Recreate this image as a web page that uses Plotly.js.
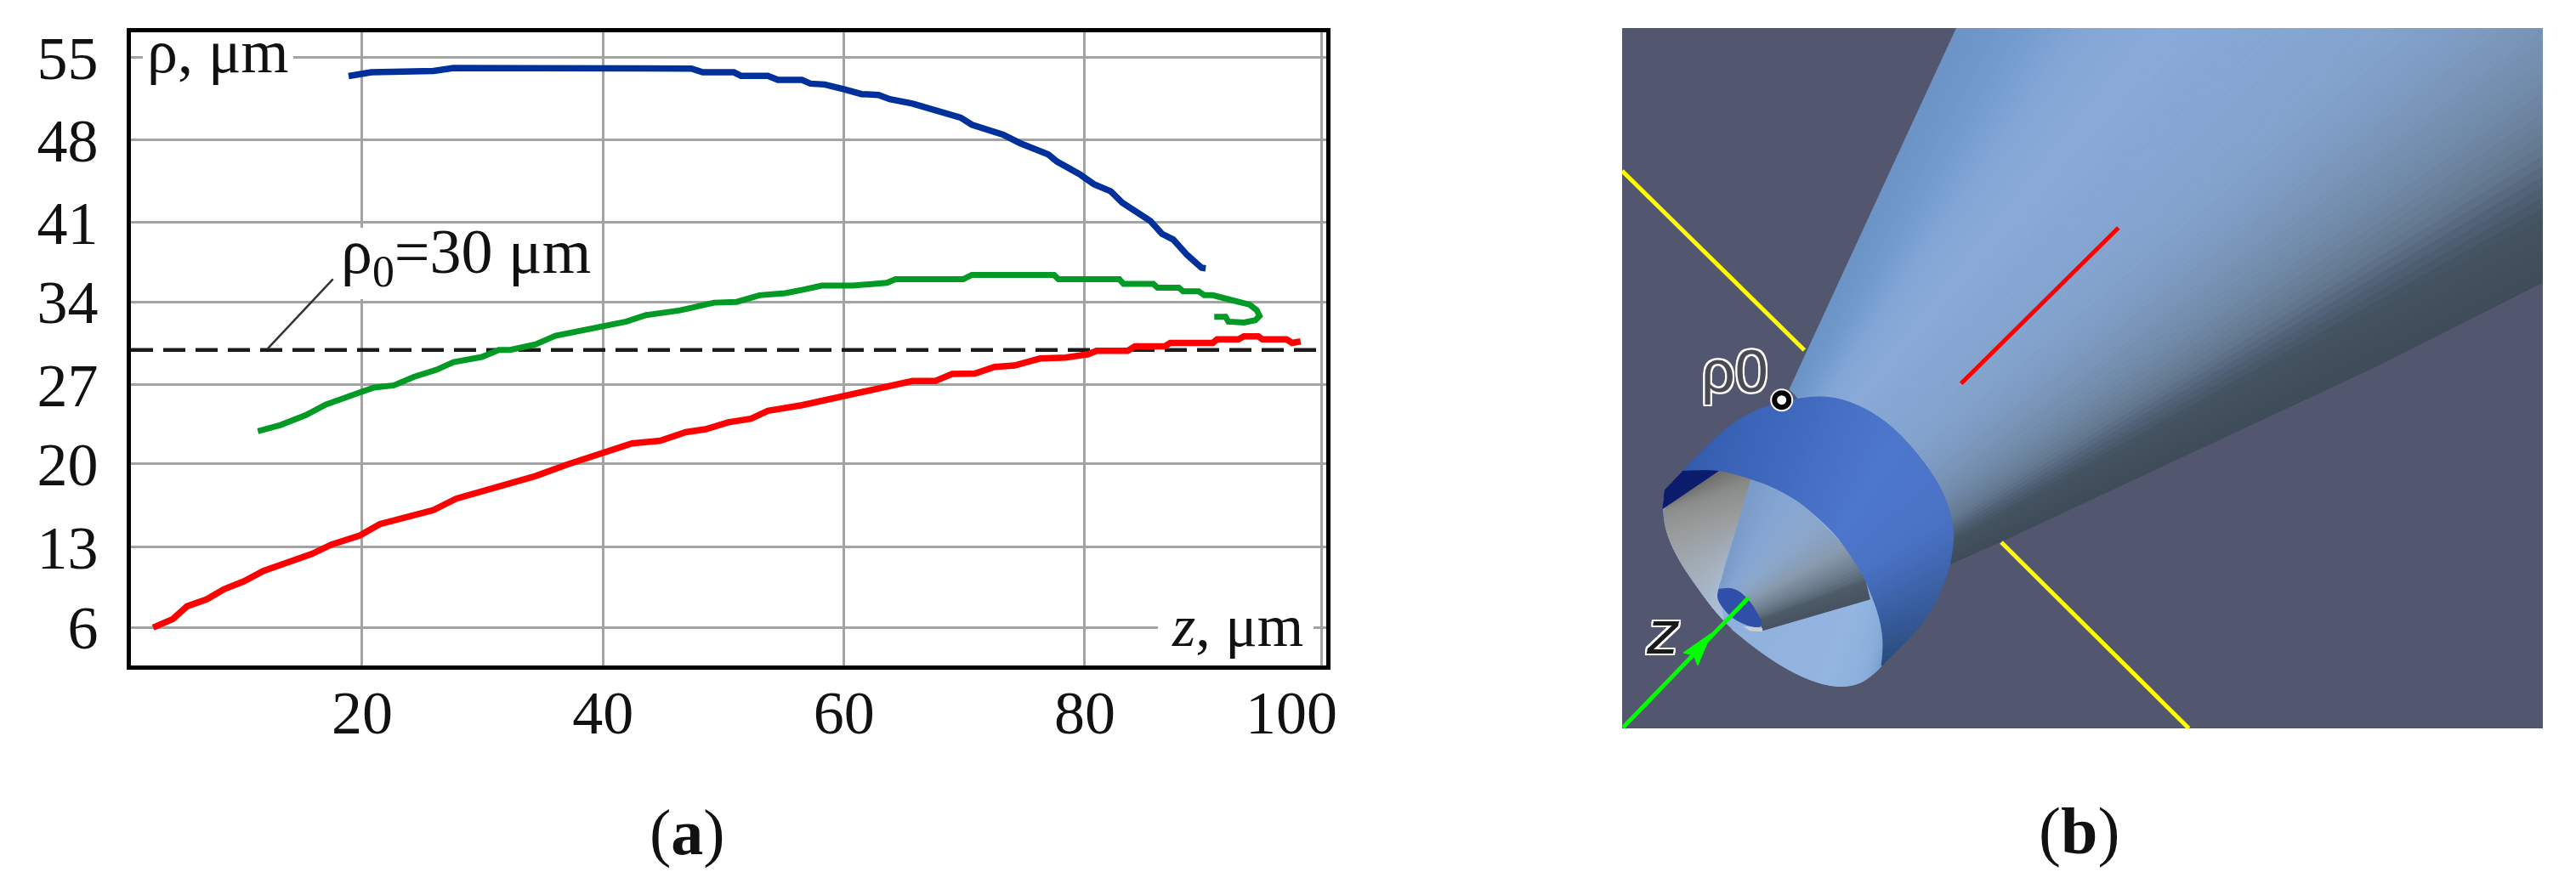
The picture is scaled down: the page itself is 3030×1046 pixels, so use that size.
<!DOCTYPE html>
<html>
<head>
<meta charset="utf-8">
<script src="https://cdn.plot.ly/plotly-3.0.1.min.js"></script>
<style>html,body{margin:0;padding:0;background:#fff;overflow:hidden}</style>
</head>
<body>
<div id="chart" style="width:3030px;height:1046px"></div>
<script>
// ---- chart (a) data ----
const xTickVals = [20, 40, 60, 80];
const xTickText = ['20', '40', '60', '80'];
const xLastGrid = [99.69];
const yTickVals = [6, 12.89, 20.05, 26.84, 33.98, 40.78, 47.91, 55];
const yTickText = ['6', '13', '20', '27', '34', '41', '48', '55'];

const blueZ = [18.87,20.75,25.93,27.58,34.40,47.34,48.28,50.87,51.46,53.69,54.52,56.52,57.22,58.40,60.04,61.46,62.87,63.81,65.69,67.57,69.69,70.63,73.22,74.63,76.98,77.69,79.57,80.75,82.16,83.10,84.51,85.45,86.40,87.34,88.51,89.69,90.04];
const blueRho = [53.38,53.70,53.82,54.07,54.05,54.02,53.70,53.70,53.39,53.39,53.05,53.05,52.73,52.66,52.24,51.83,51.75,51.39,51.02,50.41,49.81,49.20,48.34,47.61,46.64,46.03,44.94,44.09,43.47,42.50,41.53,40.92,39.82,39.33,37.99,36.90,36.85];

const greenZ = [11.34,13.22,15.34,16.99,19.81,20.99,22.63,24.28,26.17,27.58,29.93,31.34,32.28,34.40,36.04,39.10,41.93,43.57,46.40,49.22,51.10,52.99,55.10,56.52,58.16,60.75,63.57,64.28,69.92,70.63,77.45,77.81,82.87,83.22,85.69,86.04,87.81,88.16,89.45,89.92,90.63,91.81,92.75,93.69,94.28,94.51,94.16,93.22,91.92,91.69,90.75];
const greenRho = [22.85,23.38,24.24,25.14,26.18,26.60,26.79,27.52,28.13,28.79,29.23,29.84,29.84,30.32,31.05,31.66,32.27,32.83,33.24,33.90,33.97,34.54,34.71,35.00,35.37,35.37,35.61,35.92,35.92,36.29,36.29,35.92,35.92,35.51,35.51,35.19,35.19,34.88,34.88,34.54,34.54,34.22,33.97,33.73,33.25,32.76,32.39,32.20,32.27,32.68,32.68];

const redZ = [2.64,4.28,5.46,7.11,8.52,10.17,11.81,13.69,15.81,17.46,19.81,21.46,23.58,25.93,27.81,30.17,32.52,34.40,36.99,40.05,42.40,44.75,46.87,48.52,50.40,52.28,53.69,56.52,59.34,62.87,65.69,67.57,68.98,70.87,72.51,74.16,76.28,78.40,80.28,80.98,83.57,84.16,86.63,87.10,90.63,90.98,92.75,93.22,94.40,94.75,96.75,97.22,97.92];
const redRho = [5.97,6.70,7.80,8.41,9.26,9.94,10.84,11.57,12.30,13.11,13.89,14.86,15.47,16.08,17.05,17.78,18.51,19.00,19.97,20.94,21.80,22.04,22.77,23.02,23.62,23.92,24.60,25.09,25.70,26.43,27.16,27.16,27.77,27.81,28.37,28.50,29.10,29.18,29.47,29.76,29.76,30.15,30.15,30.44,30.44,30.74,30.74,31.00,31.00,30.74,30.74,30.44,30.57];

const rho0Z = [0.8, 100.05];
const rho0Rho = [29.84, 29.84];
const leaderZ = [12.16, 17.58];
const leaderRho = [29.96, 35.92];

// ---- helpers ----
const W = 3030, H = 1046;
const serif = '"Liberation Serif","Times New Roman",serif';
const px = (x, y) => ({x: x / W, y: 1 - y / H, xref: 'paper', yref: 'paper', xanchor: 'center', yanchor: 'middle', showarrow: false});
const hex = c => [1, 3, 5].map(i => parseInt(c.substr(i, 2), 16));
function colorAt(stops, t) {
  for (let i = 1; i < stops.length; i++) {
    if (t <= stops[i][0]) {
      const a = stops[i - 1], b = stops[i], f = (t - a[0]) / (b[0] - a[0] || 1);
      const ca = hex(a[1]), cb = hex(b[1]);
      return 'rgb(' + ca.map((v, k) => Math.round(v + (cb[k] - v) * f)).join(',') + ')';
    }
  }
  return stops[stops.length - 1][1];
}
const z6 = p => [1930 + p[0] / 3, 430 + p[1] / 3];   // crop units of panel (b) to panel units
function smooth(A, times) {                           // corner cutting, keeps both ends
  let pts = A;
  for (let n = 0; n < (times || 2); n++) {
    const out = [pts[0]];
    for (let i = 0; i < pts.length - 1; i++) {
      const a = pts[i], b = pts[i + 1];
      out.push([a[0] * .75 + b[0] * .25, a[1] * .75 + b[1] * .25], [a[0] * .25 + b[0] * .75, a[1] * .25 + b[1] * .75]);
    }
    out.push(pts[pts.length - 1]);
    pts = out;
  }
  return pts;
}
const shapes = [];
// white gaps behind the chart labels, above the grid and below the curves
[[1.79, 14.28, 55.53, 54.43], [17.8, 39.3, 40.34, 34.2], [86.07, 98.99, 6.95, 4.98]].forEach(b =>
  shapes.push({type: 'rect', xref: 'x', yref: 'y', layer: 'between', x0: b[0], x1: b[1], y0: b[2], y1: b[3], fillcolor: '#fff', line: {width: 0}}));
function poly(pts, color, layer) {
  shapes.push({type: 'path', xref: 'x2', yref: 'y2', layer: layer || 'below',
    path: 'M' + pts.map(p => p[0].toFixed(1) + ' ' + p[1].toFixed(1)).join(' L') + ' Z',
    fillcolor: color, line: {color: color, width: 1}});
}
function lerpLine(A, t) {
  const s = t * (A.length - 1), i = Math.min(Math.floor(s), A.length - 2), f = s - i;
  return [A[i][0] + (A[i + 1][0] - A[i][0]) * f, A[i][1] + (A[i + 1][1] - A[i][1]) * f];
}
function ribbon(A, B, stops, n) {
  for (let k = 0; k < n; k++) {
    const t0 = k / n, t1 = (k + 1) / n;
    poly([lerpLine(A, t0), lerpLine(A, t1), lerpLine(B, t1), lerpLine(B, t0)], colorAt(stops, (t0 + t1) / 2));
  }
}

// ---- panel (b): illustration, built from shapes in panel units ----
const bg = '#53566f';
shapes.push({type: 'rect', xref: 'x2', yref: 'y2', layer: 'below', x0: 1908, x1: 2991, y0: 33, y1: 857, fillcolor: bg, line: {width: 0}});

// cone, fan of bands from the shell to the far side
const coneNear = [[2105, 458], [2295, 663]];
const coneStops = [[0,'#6b93c6'],[.06,'#7099cc'],[.15,'#83a6d6'],[.25,'#8aabd9'],[.35,'#86a7d4'],[.5,'#84a4cf'],[.6,'#7f9dc5'],[.7,'#7793b5'],[.77,'#7089a7'],[.84,'#64798f'],[.88,'#52647a'],[.92,'#455361'],[1,'#3f4c59']];
const farLen = 689.5 + 299;
const farAt = t => {
  const d = t * farLen;
  return d <= 689.5 ? [2301.5 + d, 33] : [2991, 33 + d - 689.5];
};
const nearAt = t => lerpLine(coneNear, t);
const ext = (n, f) => [n[0] + (f[0] - n[0]) * 1.25, n[1] + (f[1] - n[1]) * 1.25];
const BANDS = 80;
for (let k = 0; k < BANDS; k++) {
  const t0 = k / BANDS, t1 = (k + 1) / BANDS;
  const n0 = nearAt(t0), n1 = nearAt(t1);
  poly([n0, n1, ext(n1, farAt(t1)), ext(n0, farAt(t0))], colorAt(coneStops, (t0 + t1) / 2));
}
poly([[2295, 663], [2354, 637], [2797, 430], [2991, 332]], '#3f4c59');

// shell outer and inner arcs
const shellOuter = smooth([[150,370],[250,265],[350,185],[450,140],[600,108],[700,115],[800,155],[900,225],[1000,340],[1070,450],[1105,570],[1100,650],[1085,730],[1040,840],[980,930],[900,1010],[850,1060]].map(z6));
const shellInner = smooth([[150,370],[200,368],[280,368],[390,400],[470,430],[560,480],[640,550],[690,600],[720,640],[760,700],[790,750],[810,800],[830,850],[845,900],[855,960],[855,1010],[850,1060]].map(z6));
const rimOuter = smooth([[150,370],[85,440],[78,510],[90,590],[130,680],[190,770],[260,865],[320,930],[420,1010],[520,1075],[620,1120],[700,1135],[770,1125],[820,1090],[850,1060]].map(z6));

// inner surface base
poly(rimOuter.concat(shellInner.slice().reverse()), '#8eb1dd');

// lower light part of the inner surface
ribbon(smooth([[320,930],[420,1010],[520,1075],[620,1120],[700,1135],[770,1125],[820,1090],[850,1060]].map(z6)),
       smooth([[430,935],[520,910],[620,880],[720,850],[808,825],[830,850],[855,960],[850,1060]].map(z6)),
       [[0,'#8fb1dc'],[.5,'#93b5e0'],[.75,'#8aaedb'],[.9,'#7ba2d2'],[1,'#6a92c6']], 32);

// grey part of the inner surface
ribbon(smooth([[100,490],[78,510],[90,590],[130,680],[190,770],[260,865],[290,895]].map(z6)),
       [[280,368],[390,400],[360,500],[330,590],[300,680],[275,790],[290,895]].map(z6).flatMap((p, i, a) => i < a.length - 1 ? [p, lerpLine([p, a[i + 1]], .25), lerpLine([p, a[i + 1]], .5), lerpLine([p, a[i + 1]], .75)] : [p]).slice(0, 25),
       [[0,'#6f706e'],[.2,'#8a8c8a'],[.4,'#9a9e9f'],[.6,'#a3adb8'],[.8,'#a9bcd2'],[1,'#a9c0dc']], 30);

// navy sliver
poly([[150,370],[280,368],[100,490],[78,505],[85,440]].map(z6), '#0c1c6c');

// inner cone
ribbon([[275,790],[330,785],[380,825],[420,890],[430,935]].map(z6),
       [[390,400],[560,480],[720,640],[790,750],[808,825]].map(z6),
       [[0,'#7a9ac8'],[.2,'#86a6d3'],[.38,'#8ba6c8'],[.52,'#8899ad'],[.66,'#6f7f8f'],[.8,'#4d5b68'],[1,'#47525f']], 40);

// blue cap at the tip of the inner cone
poly(smooth([[275,790],[330,785],[380,825],[420,890],[430,925],[380,920],[320,890],[285,850],[270,820],[275,790]].map(z6)), '#2f4fa8');
poly([[365,922],[428,928],[428,938],[385,936]].map(z6), '#c9cfcf');

// shell outer surface
ribbon(shellOuter, shellInner,
  [[0,'#3059a8'],[.2,'#3d66bb'],[.45,'#4d77cd'],[.6,'#4a72c4'],[.72,'#3f65ad'],[.84,'#345894'],[.93,'#2d4f82'],[1,'#27477a']], 64);

// arrowhead on the z axis
shapes.push({type: 'path', xref: 'x2', yref: 'y2', layer: 'above',
  path: 'M2013 745 L1980 768 L1992 771 L1997 783 Z', fillcolor: '#00ff00', line: {color: '#00ff00', width: 1}});

// ---- traces ----
const line2 = (x, y, color, width) => ({x, y, xaxis: 'x2', yaxis: 'y2', mode: 'lines', hoverinfo: 'skip',
  line: {color, width}});
const traces = [
  {x: rho0Z, y: rho0Rho, mode: 'lines', line: {color: '#1a1a1a', width: 4.5, dash: '26px,12px'}, name: 'ρ0=30 μm'},
  {x: leaderZ, y: leaderRho, mode: 'lines', line: {color: '#333333', width: 2.5}, name: 'leader'},
  {x: blueZ, y: blueRho, mode: 'lines', line: {color: '#00309c', width: 7.5}, name: 'blue'},
  {x: greenZ, y: greenRho, mode: 'lines', line: {color: '#009a25', width: 7}, name: 'green'},
  {x: redZ, y: redRho, mode: 'lines', line: {color: '#ff0000', width: 7.5}, name: 'red'},
  line2([1908, 2122.4], [201, 412], '#ffff00', 5),
  line2([2354, 2574.6], [638, 857], '#ffff00', 5),
  line2([2306.7, 2491.8], [451.3, 268], '#ff0000', 5),
  line2([1909, 2056.7], [856, 703.3], '#00ff00', 5),
  {x: [2095.7], y: [470.7], xaxis: 'x2', yaxis: 'y2', mode: 'markers', hoverinfo: 'skip',
   marker: {size: 27, color: '#ffffff'}},
  {x: [2095.7], y: [470.7], xaxis: 'x2', yaxis: 'y2', mode: 'markers', hoverinfo: 'skip',
   marker: {size: 17, color: '#ffffff', line: {color: '#000000', width: 6}}}
];

const halo = '-2px 0 #fff,2px 0 #fff,0 -2px #fff,0 2px #fff,-2px -2px #fff,2px 2px #fff,2px -2px #fff,-2px 2px #fff';
const annotations = [
  Object.assign(px(256, 61), {text: 'ρ, μm', font: {family: serif, size: 72, color: '#111'}}),
  Object.assign(px(548, 301), {text: 'ρ<sub>0</sub>=30 μm', font: {family: serif, size: 74, color: '#111'}}),
  Object.assign(px(1455, 736), {text: '<i>z</i>, μm', font: {family: serif, size: 70, color: '#111'}}),
  Object.assign(px(1519, 839), {text: '100', font: {family: serif, size: 72, color: '#111'}}),
  Object.assign(px(808, 979), {text: '(<b>a</b>)', font: {family: serif, size: 76, color: '#111'}}),
  Object.assign(px(2445, 977), {text: '(<b>b</b>)', font: {family: serif, size: 78, color: '#111'}}),
  Object.assign(px(2040, 437), {text: 'ρ0', font: {family: '"Liberation Sans",sans-serif', size: 70, color: '#4a4a55', shadow: halo}}),
  Object.assign(px(1956, 745), {text: '<i>z</i>', font: {family: '"DejaVu Sans",sans-serif', size: 70, color: '#1a1a1a', shadow: halo}})
];

const axisLine = {showline: true, mirror: true, linecolor: '#000', linewidth: 5, zeroline: false};
const layout = {
  width: W, height: H, margin: {l: 0, r: 0, t: 0, b: 0},
  paper_bgcolor: '#fff', plot_bgcolor: '#fff', showlegend: false,
  xaxis: Object.assign({domain: [154 / W, 1560 / W], range: [0.80, 100.05], tickmode: 'array', tickvals: xTickVals, ticktext: xTickText,
    showgrid: true, gridcolor: '#a3a3a3', gridwidth: 3,
    minor: {tickmode: 'array', tickvals: xLastGrid, showgrid: true, gridcolor: '#a3a3a3', gridwidth: 3, ticks: ''},
    ticks: '', ticklabelstandoff: -12, tickfont: {family: serif, size: 72, color: '#111'}, anchor: 'y', fixedrange: true}, axisLine),
  yaxis: Object.assign({domain: [1 - 783.3 / H, 1 - 38.3 / H], range: [2.69, 57.12], tickmode: 'array', tickvals: yTickVals, ticktext: yTickText,
    showgrid: true, gridcolor: '#a3a3a3', gridwidth: 3,
    ticks: '', ticklabelstandoff: 19, tickfont: {family: serif, size: 72, color: '#111'}, anchor: 'x', fixedrange: true}, axisLine),
  xaxis2: {domain: [1908 / W, 2991 / W], range: [1908, 2991], visible: false, anchor: 'y2', fixedrange: true},
  yaxis2: {domain: [1 - 857 / H, 1 - 33 / H], range: [857, 33], visible: false, anchor: 'x2', fixedrange: true},
  shapes, annotations
};
Plotly.newPlot('chart', traces, layout, {displayModeBar: false, staticPlot: true});
</script>
</body>
</html>
